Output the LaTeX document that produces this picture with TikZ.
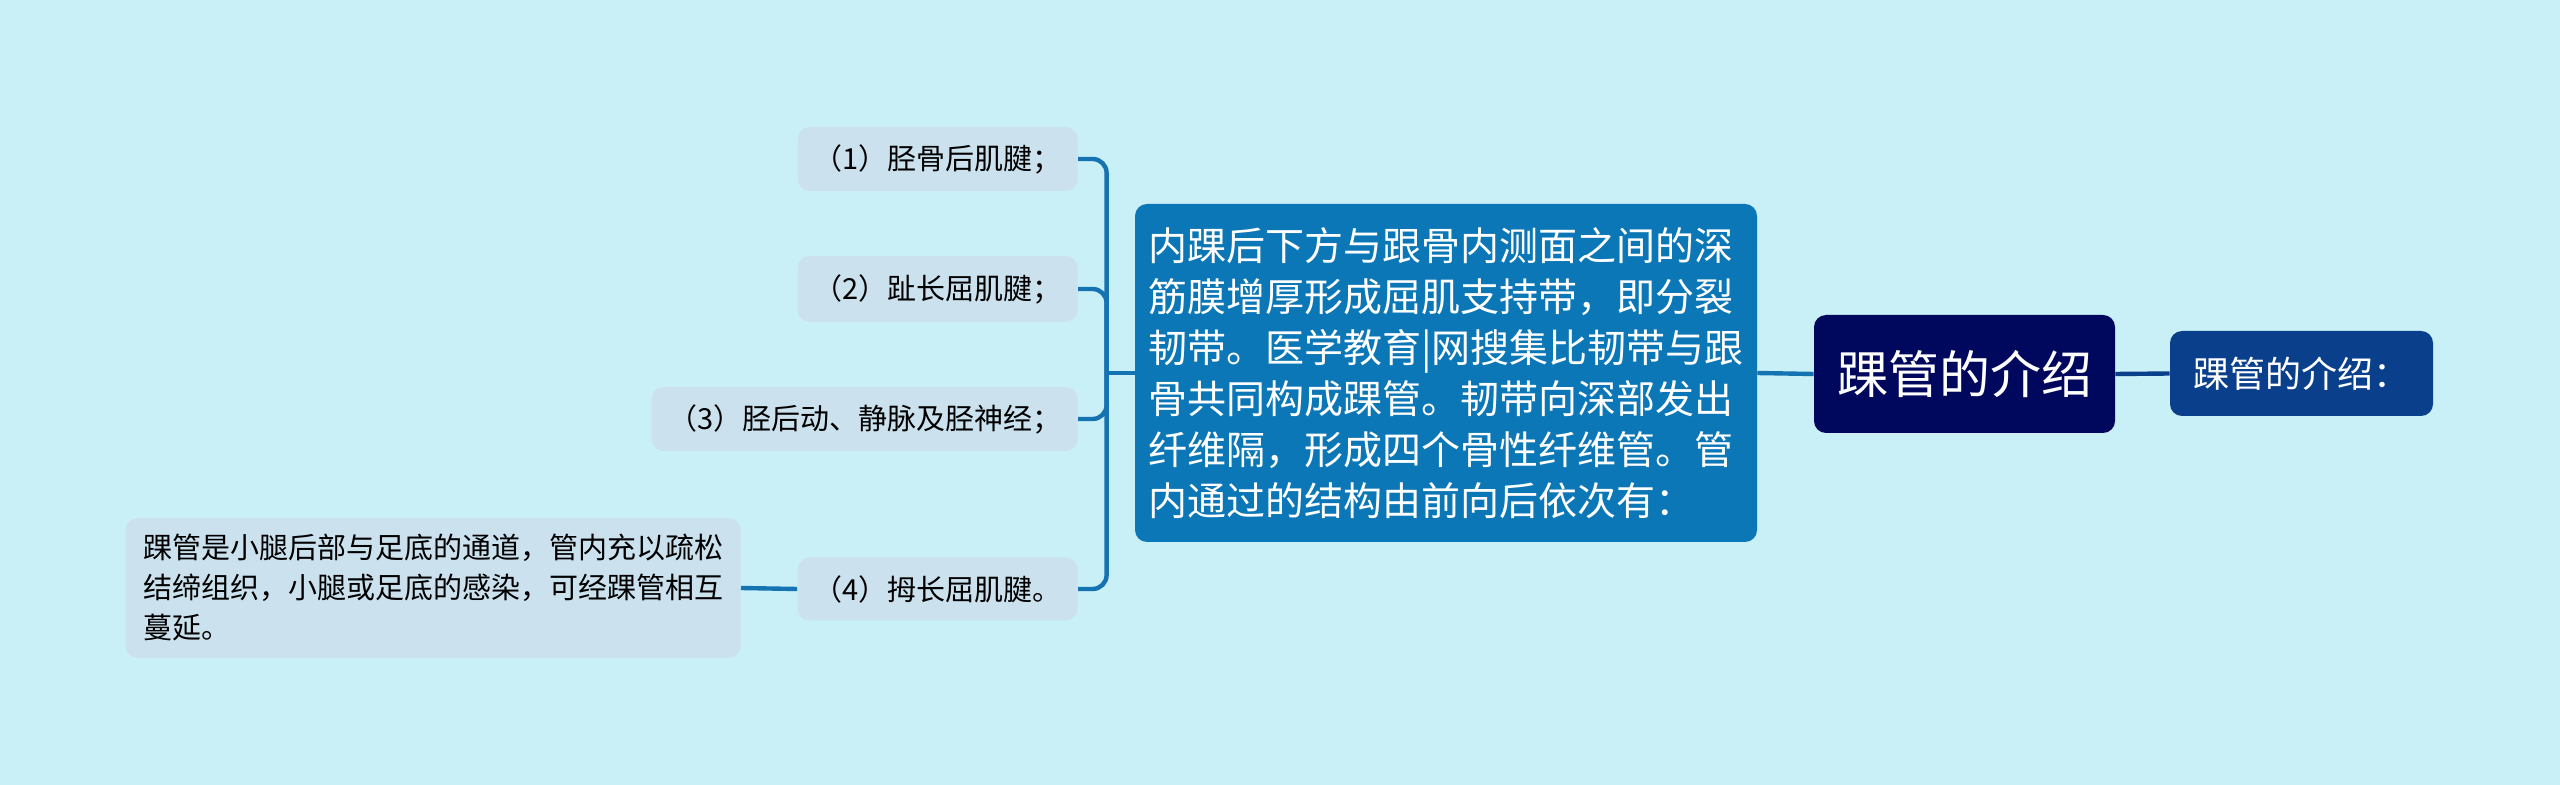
\documentclass[tikz,border=0pt]{standalone}
\usepackage{fontspec}
\setmainfont{Noto Sans CJK SC}
\usepackage{tikz}
\usetikzlibrary{calc}
\definecolor{bgcol}{RGB}{201,239,247}
\definecolor{leafcol}{RGB}{203,226,238}
\definecolor{maincol}{RGB}{11,119,182}
\definecolor{rootcol}{RGB}{0,8,94}
\definecolor{sidecol}{RGB}{10,63,140}
\definecolor{linkcol}{RGB}{22,115,177}
\tikzset{
% Node styles for the mind map: root, side, main and leaf boxes
root node/.style={rectangle,rounded corners=6pt,fill=rootcol,text=white,minimum width=150.5pt,minimum height=59pt,inner sep=0,font=\fontsize{25.5}{30}\selectfont},
side node/.style={rectangle,rounded corners=6pt,fill=sidecol,text=white,minimum width=131.5pt,minimum height=42.5pt,inner sep=0,font=\fontsize{18}{22}\selectfont},
main node/.style={rectangle,rounded corners=6pt,fill=maincol,text=white,align=left,minimum width=311pt,minimum height=169pt,inner sep=0,font=\fontsize{19.5}{25.5}\selectfont},
leaf node/.style={rectangle,rounded corners=6pt,fill=leafcol,text=black,minimum width=140pt,minimum height=32pt,inner sep=0,font=\fontsize{14.5}{20}\selectfont},
link/.style={line width=2.2pt,draw=linkcol}
}

\begin{document}
\begin{tikzpicture}[x=0.5pt,y=-0.5pt]
      % Background and page size
      \fill[bgcol] (0,0) rectangle (2560,785);
      \useasboundingbox (0,0) rectangle (2560,785);
      % Centre and its right branch
      \node(root)[root node] at (1964.5,374) {踝管的介绍};
      \node(side)[side node] at (2301.5,373.5) {踝管的介绍：};
      % Left branch
      \node(main)[main node] at (1446,373) {内踝后下方与跟骨内测面之间的深\\筋膜增厚形成屈肌支持带，即分裂\\韧带。医学教育|网搜集比韧带与跟\\骨共同构成踝管。韧带向深部发出\\纤维隔，形成四个骨性纤维管。管\\内通过的结构由前向后依次有：};
      % The four leaves
      \node(k1)[leaf node,anchor=east] at (1078,159) {（1）胫骨后肌腱；};
      \node(k2)[leaf node,anchor=east,minimum height=33pt] at (1078,289) {（2）趾长屈肌腱；};
      \node(k3)[leaf node,anchor=east,minimum width=213pt] at (1078,419) {（3）胫后动、静脉及胫神经；};
      \node(k4)[leaf node,anchor=east,minimum height=31.5pt] at (1078,589) {（4）拇长屈肌腱。};
      % Note on the fourth leaf
      \node(note)[leaf node,anchor=east,align=left,minimum width=307.5pt,minimum height=70pt] at (741,588) {踝管是小腿后部与足底的通道，管内充以疏松\\结缔组织，小腿或足底的感染，可经踝管相互\\蔓延。};
      % Connectors
      \draw[link,draw=sidecol] (root.east) -- (side.west);
      \draw[link] (root.west) -- (main.east);
      \coordinate (hub) at ($(main.west)+(-28,0)$);
      \draw[link] (main.west) -- (hub);
      \foreach \k in {k1,k2,k3,k4}
        \draw[link,rounded corners=7pt] (hub) |- (\k.east);
      \draw[link] (k4.west) -- (note.east);
\end{tikzpicture}
\end{document}
